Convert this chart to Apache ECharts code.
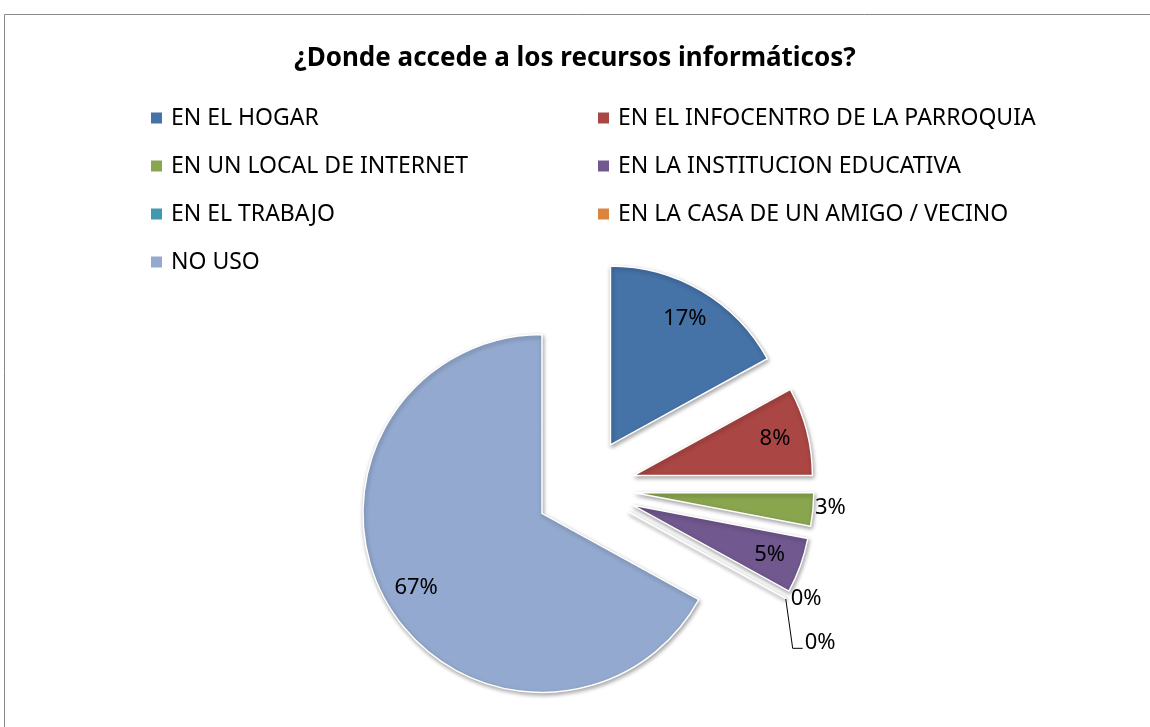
<!DOCTYPE html>
<html>
<head>
<meta charset="utf-8">
<script src="https://cdn.jsdelivr.net/npm/echarts@6/dist/echarts.min.js"></script>
<style>
  html, body { margin: 0; padding: 0; background: #fff; }
  #main { width: 1150px; height: 727px; }
</style>
</head>
<body>
<div id="main"></div>
<script>
// datos del grafico
const titulo = '¿Donde accede a los recursos informáticos?';
const categorias = [
  'EN EL HOGAR',
  'EN EL INFOCENTRO DE LA PARROQUIA',
  'EN UN LOCAL DE INTERNET',
  'EN LA INSTITUCION EDUCATIVA',
  'EN EL TRABAJO',
  'EN LA CASA DE UN AMIGO / VECINO',
  'NO USO'
];
const porcentajes = [17, 8, 3, 5, 0, 0, 67];
const colores = ['#4572A7', '#AA4643', '#89A54E', '#71588F', '#4198AF', '#DB843D', '#93A9CF'];

const fuente = 'Noto Sans';
const centro = [585, 488];
const radio = 179;
const separacion = 50;

// posicion de cada etiqueta (como en el original)
const posEtiqueta = ['inside', 'inside', 'outside', 'inside', 'outside', 'outside', 'inside'];
const distEtiqueta = [0, 0, 0, 0, 2, 0, 0];

const datosPie = categorias.map((n, i) => ({
  name: n,
  value: porcentajes[i],
  selected: true,
  itemStyle: { color: colores[i] }
}));

const datosEtiquetas = categorias.map((n, i) => ({
  name: n,
  value: porcentajes[i],
  selected: true,
  label: {
    position: posEtiqueta[i],
    distance: distEtiqueta[i]
  },
  labelLine: {
    show: i === 5,
    length: 0,
    length2: 0
  }
}));

const myChart = echarts.init(document.getElementById('main'));

const estiloLeyenda = {
  orient: 'vertical',
  top: 99,
  icon: 'rect',
  itemWidth: 13,
  itemHeight: 13,
  itemGap: 20,
  selectedMode: false,
  textStyle: { fontFamily: fuente, fontSize: 23, color: '#000', lineHeight: 28, padding: [0, 0, 0, 3] }
};

const option = {
  animation: false,
  color: colores,
  title: {
    text: titulo,
    left: 'center',
    top: 41,
    textStyle: { fontFamily: fuente, fontSize: 26, fontWeight: 'bold', color: '#000' }
  },
  legend: [
    Object.assign({}, estiloLeyenda, {
      left: 144,
      data: categorias.filter((c, i) => i % 2 === 0)
    }),
    Object.assign({}, estiloLeyenda, {
      left: 591,
      data: categorias.filter((c, i) => i % 2 === 1)
    })
  ],
  graphic: [{
    type: 'rect',
    shape: { x: 4.5, y: 14.5, width: 1200, height: 800 },
    style: { fill: 'none', stroke: '#888', lineWidth: 1 },
    silent: true
  }],
  series: [
    {
      name: 'sectores',
      type: 'pie',
      center: centro,
      radius: [0, radio],
      startAngle: 90,
      selectedMode: 'multiple',
      selectedOffset: separacion,
      label: { show: false },
      labelLine: { show: false },
      emphasis: { disabled: true },
      itemStyle: {
        borderColor: '#fff',
        borderWidth: 1.5,
        shadowBlur: 4,
        shadowOffsetX: 1,
        shadowOffsetY: 2,
        shadowColor: 'rgba(0,0,0,0.35)'
      },
      data: datosPie
    },
    {
      name: 'etiquetas',
      type: 'pie',
      center: centro,
      radius: [radio * 0.6, radio],
      startAngle: 90,
      selectedMode: 'multiple',
      selectedOffset: separacion,
      silent: true,
      avoidLabelOverlap: false,
      emphasis: { disabled: true },
      itemStyle: { color: 'rgba(0,0,0,0)', borderWidth: 0 },
      label: {
        show: true,
        formatter: '{c}%',
        color: '#000',
        fontFamily: fuente,
        fontSize: 22
      },
      labelLine: {
        lineStyle: { color: '#000', width: 1 }
      },
      labelLayout: function (params) {
        // el 3% queda pegado al borde del sector
        if (params.dataIndex === 2) {
          return { dx: -3, dy: -2 };
        }
        // la segunda etiqueta 0% baja con su linea, como en el original
        if (params.dataIndex === 5 && params.labelLinePoints) {
          const p0 = params.labelLinePoints[0];
          const r = params.labelRect;
          const dx = 14, dy = 44;
          const x = r.x + dx;
          const y = r.y + r.height / 2 + dy;
          return {
            dx: dx,
            dy: dy,
            labelLinePoints: [p0, [x - 12, y + 6], [x - 2, y + 6]]
          };
        }
      },
      data: datosEtiquetas
    }
  ]
};

myChart.setOption(option);
</script>
</body>
</html>
